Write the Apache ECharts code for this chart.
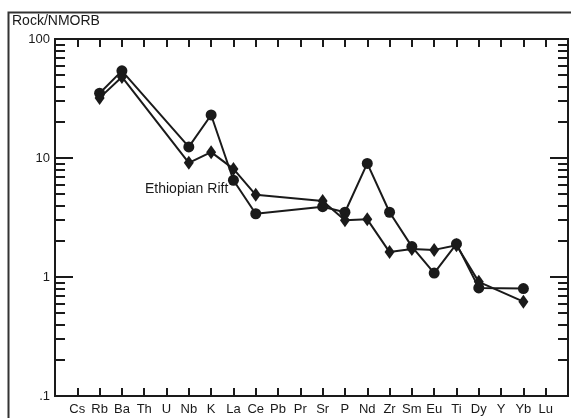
<!DOCTYPE html>
<html>
<head>
<meta charset="utf-8">
<script src="https://cdn.jsdelivr.net/npm/echarts@6/dist/echarts.min.js"></script>
<style>
html,body{margin:0;padding:0;background:#fff;}
#chart{width:571px;height:418px;}
</style>
</head>
<body>
<div id="chart"></div>
<script>
// Elements (x categories)
var elements = ['Cs','Rb','Ba','Th','U','Nb','K','La','Ce','Pb','Pr','Sr','P','Nd','Zr','Sm','Eu','Ti','Dy','Y','Yb','Lu'];
// Sample with circle markers
var circleValues = [null,35,54,null,null,12.4,23,6.5,3.4,null,null,3.9,3.5,9.0,3.5,1.8,1.08,1.9,0.81,null,0.80,null];
// Sample with diamond markers
var diamondValues = [null,32,48,null,null,9.1,11.2,8.1,4.9,null,null,4.35,3.0,3.05,1.62,1.72,1.69,1.85,0.91,null,0.62,null];
// Y axis tick labels
var yMajorTicks = [0.1,1,10,100];
var yMajorLabels = ['.1','1','10','100'];
var yMinorTicks = [0.2,0.3,0.4,0.5,0.6,0.7,0.8,0.9,2,3,4,5,6,7,8,9,20,30,40,50,60,70,80,90];

function toPairs(vals){
  var out = [];
  vals.forEach(function(v,i){ if(v!==null) out.push([i,v]); });
  return out;
}

var FONT = 'Liberation Sans, Arial, sans-serif';
var INK = '#1a1a1a';

function xAx(pos, labels){
  return {
    type:'value', position:pos, min:-1, max:22, interval:1,
    axisLine:{show:true, onZero:false, lineStyle:{color:INK, width:2}},
    axisTick:{show:true, inside:true, length:8, lineStyle:{color:INK, width:2}},
    axisLabel:{show:labels, margin:7, fontFamily:FONT, fontSize:13, color:INK,
      formatter:function(v){ var i=Math.round(v); return (i>=0 && i<elements.length)? elements[i] : ''; }},
    splitLine:{show:false}
  };
}
function yAx(pos, major){
  return {
    type:'log', logBase:10, position:pos, min:0.1, max:100,
    axisLine:{show:true, onZero:false, lineStyle:{color:INK, width:2}},
    axisTick:{show:true, inside:true, length: major?18:10,
      customValues: major? yMajorTicks : yMinorTicks,
      lineStyle:{color:INK, width:2}},
    axisLabel:{show: major && pos==='left', margin:5, fontFamily:FONT, fontSize:13, color:INK,
      customValues: yMajorTicks,
      formatter:function(v){
        for (var k=0;k<yMajorTicks.length;k++){ if (Math.abs(v-yMajorTicks[k])<yMajorTicks[k]*1e-6) return yMajorLabels[k]; }
        return '';
      }},
    splitLine:{show:false}
  };
}

var chart = echarts.init(document.getElementById('chart'), null, {renderer:'canvas'});
chart.setOption({
  animation:false,
  backgroundColor:'#fff',
  grid:{left:55, right:3, top:39, bottom:22, containLabel:false},
  xAxis:[xAx('bottom', true), xAx('top', false)],
  yAxis:[yAx('left', true), yAx('left', false), yAx('right', true), yAx('right', false)],
  graphic:[
    {type:'rect', left:6, top:10, z:100, silent:true,
      shape:{x:0,y:0,width:700,height:700},
      style:{fill:'none', stroke:'#333', lineWidth:2}},
    {type:'text', left:12, top:14, z:100,
      style:{text:'Rock/NMORB', font:'14px '+FONT, fill:INK}},
    {type:'text', left:145, top:182, z:100,
      style:{text:'Ethiopian Rift', font:'14px '+FONT, fill:INK}}
  ],
  series:[
    {type:'line', name:'circles', xAxisIndex:0, yAxisIndex:0,
      data: toPairs(circleValues), connectNulls:true,
      symbol:'circle', symbolSize:11,
      lineStyle:{color:INK, width:2}, itemStyle:{color:INK}},
    {type:'line', name:'diamonds', xAxisIndex:0, yAxisIndex:0,
      data: toPairs(diamondValues), connectNulls:true,
      symbol:'diamond', symbolSize:[10,14],
      lineStyle:{color:INK, width:2}, itemStyle:{color:INK}}
  ]
});
</script>
</body>
</html>
